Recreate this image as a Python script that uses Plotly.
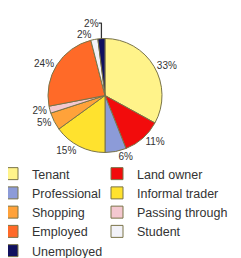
import plotly.graph_objects as go

labels = ["Tenant", "Land owner", "Professional", "Informal trader", "Shopping",
          "Passing through", "Employed", "Student", "Unemployed"]
values = [33, 11, 6, 15, 5, 2, 24, 2, 2]
colors = ["#FFF38A", "#F20C0C", "#8C9BD8", "#FFE22E", "#FFA23A",
          "#F4C8D0", "#FF6A28", "#F2F2F8", "#10105E"]

W, H = 241, 258
MB = 112
PH = H - MB
fig = go.Figure(go.Pie(
    labels=labels,
    values=values,
    sort=False,
    direction="clockwise",
    rotation=0,
    marker=dict(colors=colors, line=dict(color="#7A7448", width=1)),
    textinfo="percent",
    textposition="outside",
    textfont=dict(family="Liberation Sans, Arial, sans-serif", size=10, color="#333333"),
    domain=dict(x=[40 / W, 154 / W], y=[1 - 145 / PH, 1 - 30 / PH]),
    automargin=False,
))

fig.update_layout(
    width=W, height=H,
    margin=dict(l=0, r=0, t=0, b=MB, autoexpand=False),
    paper_bgcolor="white",
    plot_bgcolor="white",
    showlegend=True,
    legend=dict(
        orientation="h",
        x=-16 / W, xanchor="left",
        y=-(151 - PH) / PH, yanchor="top",
        entrywidth=60, entrywidthmode="pixels",
        font=dict(family="Liberation Sans, Arial, sans-serif", size=12.5, color="#333333"),
        itemwidth=30,
        tracegroupgap=0,
        bgcolor="rgba(0,0,0,0)",
    ),
)

unclip = """
var gd = document.getElementById('{plot_id}');
function unclip(){
  gd.querySelectorAll('.legend, .legend .scrollbox').forEach(function(e){
    e.removeAttribute('clip-path');
    e.style.clipPath = 'none';
  });
}
unclip();
gd.on('plotly_afterplot', unclip);
"""
fig.write_html("out.html", post_script=unclip)
